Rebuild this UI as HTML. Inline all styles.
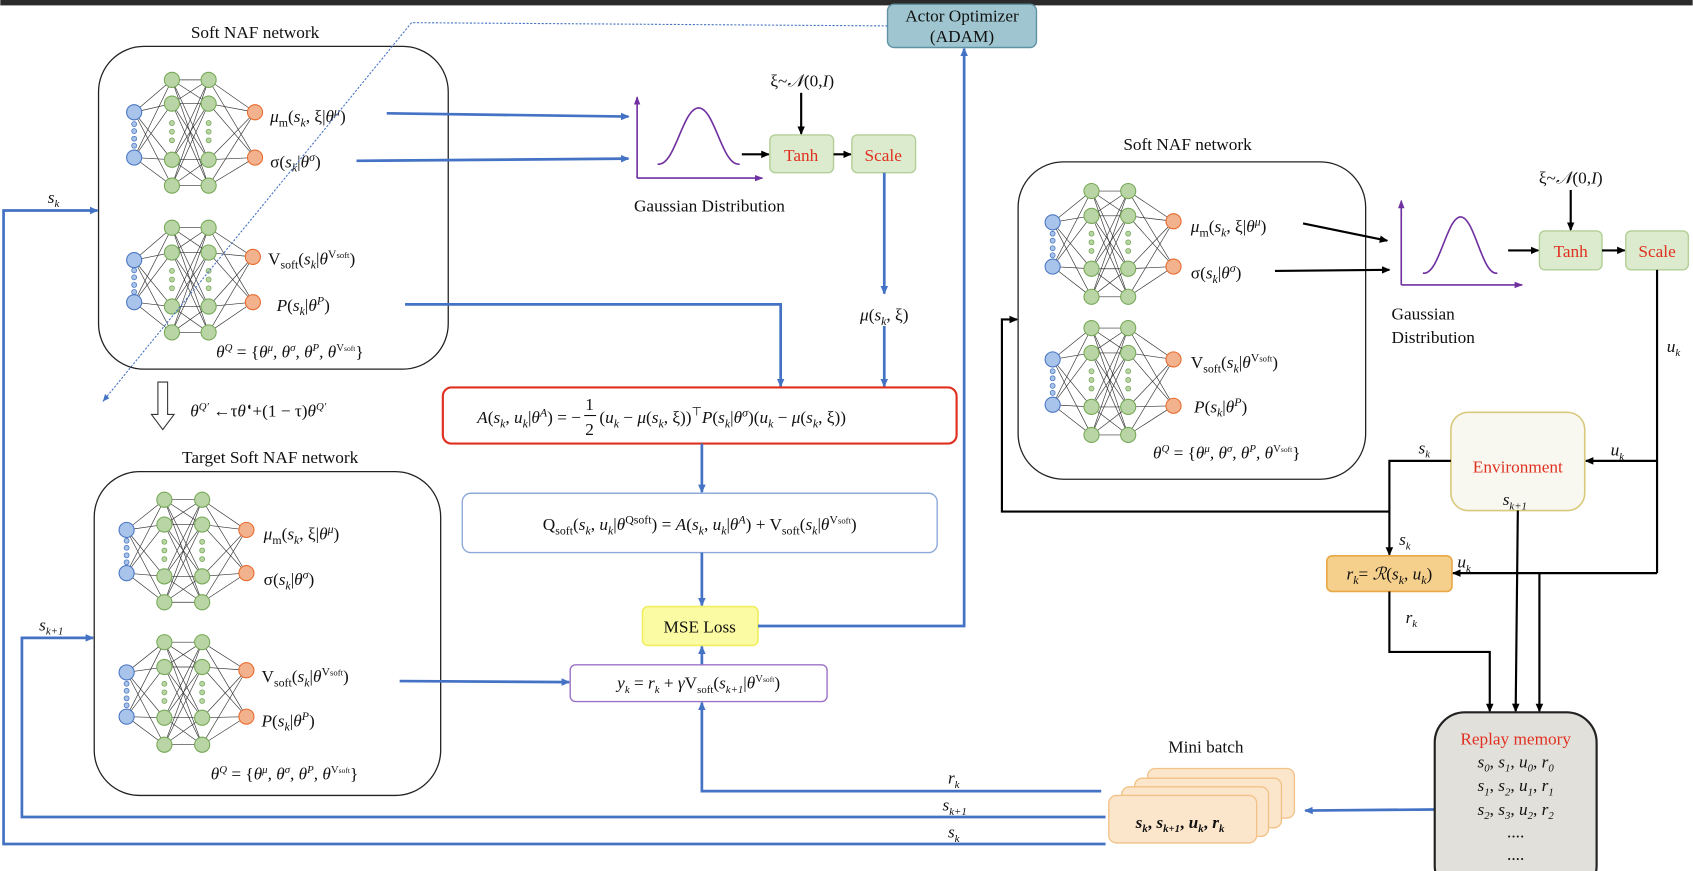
<!DOCTYPE html>
<html><head><meta charset="utf-8"><style>
html,body{margin:0;padding:0;background:#fff}
svg{display:block}
text{font-family:"Liberation Serif",serif;fill:#111}
.m{font-style:italic;font-size:16px}
.t{font-size:16px}
</style></head><body>
<svg id="s" width="1693" height="871" viewBox="0 0 1568 807" xmlns="http://www.w3.org/2000/svg">
<defs>
<marker id="ab" markerWidth="8" markerHeight="8" refX="7" refY="4" orient="auto" markerUnits="userSpaceOnUse"><path d="M0,0.5 L8,4 L0,7.5 Z" fill="#4472c4"/></marker>
<marker id="ak" markerWidth="8" markerHeight="8" refX="7" refY="4" orient="auto" markerUnits="userSpaceOnUse"><path d="M0,0.5 L8,4 L0,7.5 Z" fill="#000"/></marker>
<marker id="ap" markerWidth="8" markerHeight="8" refX="7" refY="4" orient="auto" markerUnits="userSpaceOnUse"><path d="M0,1 L8,4 L0,7 Z" fill="#7030a0"/></marker>
</defs>
<rect x="0" y="0" width="1568" height="5" fill="#2b2b2b"/>

<rect x="91" y="43" width="324" height="299" rx="42" fill="none" stroke="#222" stroke-width="1.2"/>
<text x="236" y="35" text-anchor="middle" class="t">Soft NAF network</text>
<rect x="87" y="437" width="321" height="300" rx="42" fill="none" stroke="#222" stroke-width="1.2"/>
<text x="250" y="429" text-anchor="middle" class="t">Target Soft NAF network</text>
<rect x="943" y="150" width="322" height="294" rx="42" fill="none" stroke="#222" stroke-width="1.2"/>
<text x="1100" y="139" text-anchor="middle" class="t">Soft NAF network</text>

<g id="nets"></g>

<text x="250" y="113" class="m">μ<tspan font-style="normal" font-size="11" dy="4">m</tspan><tspan dy="-4" font-style="normal">(</tspan>s<tspan font-size="11" dy="4">k</tspan><tspan dy="-4" font-style="normal">, ξ|</tspan>θ<tspan font-size="11" dy="-6">μ</tspan><tspan dy="6" font-style="normal">)</tspan></text>
<text x="250" y="155" class="m"><tspan font-style="normal">σ(</tspan>s<tspan font-size="11" dy="4">k</tspan><tspan dy="-4" font-style="normal">|</tspan>θ<tspan font-size="11" dy="-6">σ</tspan><tspan dy="6" font-style="normal">)</tspan></text>
<text x="248" y="245" class="m"><tspan font-style="normal">V</tspan><tspan font-style="normal" font-size="11" dy="4">soft</tspan><tspan dy="-4" font-style="normal">(</tspan>s<tspan font-size="11" dy="4">k</tspan><tspan dy="-4" font-style="normal">|</tspan>θ<tspan font-style="normal" font-size="11" dy="-6">V</tspan><tspan font-style="normal" font-size="8">soft</tspan><tspan dy="6" font-style="normal">)</tspan></text>
<text x="256" y="288" class="m">P<tspan font-style="normal">(</tspan>s<tspan font-size="11" dy="4">k</tspan><tspan dy="-4" font-style="normal">|</tspan>θ<tspan font-size="11" dy="-6">P</tspan><tspan dy="6" font-style="normal">)</tspan></text>
<text x="200" y="331" class="m" font-size="15">θ<tspan font-size="10" dy="-6">Q</tspan><tspan dy="6" font-style="normal"> = {</tspan>θ<tspan font-size="10" dy="-6">μ</tspan><tspan dy="6">, θ</tspan><tspan font-size="10" dy="-6">σ</tspan><tspan dy="6">, θ</tspan><tspan font-size="10" dy="-6">P</tspan><tspan dy="6">, θ</tspan><tspan font-style="normal" font-size="10" dy="-6">V</tspan><tspan font-style="normal" font-size="7">soft</tspan><tspan dy="6" font-style="normal">}</tspan></text>

<text x="244" y="500" class="m">μ<tspan font-style="normal" font-size="11" dy="4">m</tspan><tspan dy="-4" font-style="normal">(</tspan>s<tspan font-size="11" dy="4">k</tspan><tspan dy="-4" font-style="normal">, ξ|</tspan>θ<tspan font-size="11" dy="-6">μ</tspan><tspan dy="6" font-style="normal">)</tspan></text>
<text x="244" y="542" class="m"><tspan font-style="normal">σ(</tspan>s<tspan font-size="11" dy="4">k</tspan><tspan dy="-4" font-style="normal">|</tspan>θ<tspan font-size="11" dy="-6">σ</tspan><tspan dy="6" font-style="normal">)</tspan></text>
<text x="242" y="632" class="m"><tspan font-style="normal">V</tspan><tspan font-style="normal" font-size="11" dy="4">soft</tspan><tspan dy="-4" font-style="normal">(</tspan>s<tspan font-size="11" dy="4">k</tspan><tspan dy="-4" font-style="normal">|</tspan>θ<tspan font-style="normal" font-size="11" dy="-6">V</tspan><tspan font-style="normal" font-size="8">soft</tspan><tspan dy="6" font-style="normal">)</tspan></text>
<text x="242" y="673" class="m">P<tspan font-style="normal">(</tspan>s<tspan font-size="11" dy="4">k</tspan><tspan dy="-4" font-style="normal">|</tspan>θ<tspan font-size="11" dy="-6">P</tspan><tspan dy="6" font-style="normal">)</tspan></text>
<text x="195" y="722" class="m" font-size="15">θ<tspan font-size="10" dy="-6">Q</tspan><tspan dy="6" font-style="normal"> = {</tspan>θ<tspan font-size="10" dy="-6">μ</tspan><tspan dy="6">, θ</tspan><tspan font-size="10" dy="-6">σ</tspan><tspan dy="6">, θ</tspan><tspan font-size="10" dy="-6">P</tspan><tspan dy="6">, θ</tspan><tspan font-style="normal" font-size="10" dy="-6">V</tspan><tspan font-style="normal" font-size="7">soft</tspan><tspan dy="6" font-style="normal">}</tspan></text>

<text x="1103" y="215" class="m">μ<tspan font-style="normal" font-size="11" dy="4">m</tspan><tspan dy="-4" font-style="normal">(</tspan>s<tspan font-size="11" dy="4">k</tspan><tspan dy="-4" font-style="normal">, ξ|</tspan>θ<tspan font-size="11" dy="-6">μ</tspan><tspan dy="6" font-style="normal">)</tspan></text>
<text x="1103" y="258" class="m"><tspan font-style="normal">σ(</tspan>s<tspan font-size="11" dy="4">k</tspan><tspan dy="-4" font-style="normal">|</tspan>θ<tspan font-size="11" dy="-6">σ</tspan><tspan dy="6" font-style="normal">)</tspan></text>
<text x="1103" y="341" class="m"><tspan font-style="normal">V</tspan><tspan font-style="normal" font-size="11" dy="4">soft</tspan><tspan dy="-4" font-style="normal">(</tspan>s<tspan font-size="11" dy="4">k</tspan><tspan dy="-4" font-style="normal">|</tspan>θ<tspan font-style="normal" font-size="11" dy="-6">V</tspan><tspan font-style="normal" font-size="8">soft</tspan><tspan dy="6" font-style="normal">)</tspan></text>
<text x="1106" y="382" class="m">P<tspan font-style="normal">(</tspan>s<tspan font-size="11" dy="4">k</tspan><tspan dy="-4" font-style="normal">|</tspan>θ<tspan font-size="11" dy="-6">P</tspan><tspan dy="6" font-style="normal">)</tspan></text>
<text x="1068" y="425" class="m" font-size="15">θ<tspan font-size="10" dy="-6">Q</tspan><tspan dy="6" font-style="normal"> = {</tspan>θ<tspan font-size="10" dy="-6">μ</tspan><tspan dy="6">, θ</tspan><tspan font-size="10" dy="-6">σ</tspan><tspan dy="6">, θ</tspan><tspan font-size="10" dy="-6">P</tspan><tspan dy="6">, θ</tspan><tspan font-style="normal" font-size="10" dy="-6">V</tspan><tspan font-style="normal" font-size="7">soft</tspan><tspan dy="6" font-style="normal">}</tspan></text>

<rect x="822" y="4" width="138" height="40" rx="6" fill="#9fc6d0" stroke="#5f93a3" stroke-width="1.3"/>
<text x="891" y="20" text-anchor="middle" class="t" font-size="15">Actor Optimizer</text>
<text x="891" y="39" text-anchor="middle" class="t" font-size="15">(ADAM)</text>
<polyline points="822,24 381,21 95,372" fill="none" stroke="#4472c4" stroke-width="1" stroke-dasharray="2,1.5"/>
<path d="M95,372 l2,-7 l4,4 z" fill="#4472c4"/>

<line x1="358" y1="105" x2="582" y2="108" stroke="#4472c4" stroke-width="2.5" marker-end="url(#ab)"/>
<line x1="330" y1="149" x2="582" y2="147" stroke="#4472c4" stroke-width="2.5" marker-end="url(#ab)"/>
<line x1="590" y1="165" x2="590" y2="90" stroke="#7030a0" stroke-width="1.5" marker-end="url(#ap)"/>
<line x1="590" y1="165" x2="706" y2="165" stroke="#7030a0" stroke-width="1.5" marker-end="url(#ap)"/>
<path d="M609,152 C625,155 632,100 647,100 C662,100 669,155 685,152" fill="none" stroke="#7030a0" stroke-width="1.5"/>
<text x="657" y="196" text-anchor="middle" class="t" font-size="15">Gaussian Distribution</text>
<line x1="687" y1="143" x2="712" y2="143" stroke="#000" stroke-width="2" marker-end="url(#ak)"/>
<rect x="713" y="125" width="59" height="35" rx="5" fill="#dcebcd" stroke="#b3cf97" stroke-width="1.3"/>
<text x="742" y="149" text-anchor="middle" style="fill:#e03020" class="t">Tanh</text>
<line x1="772" y1="143" x2="788" y2="143" stroke="#000" stroke-width="2" marker-end="url(#ak)"/>
<rect x="789" y="125" width="59" height="35" rx="5" fill="#dcebcd" stroke="#b3cf97" stroke-width="1.3"/>
<text x="818" y="149" text-anchor="middle" style="fill:#e03020" class="t">Scale</text>
<text x="743" y="80" text-anchor="middle" class="m" font-size="15"><tspan font-style="normal">ξ~</tspan>𝒩<tspan font-style="normal">(0,</tspan>I<tspan font-style="normal">)</tspan></text>
<line x1="742" y1="86" x2="742" y2="124" stroke="#000" stroke-width="2" marker-end="url(#ak)"/>
<line x1="819" y1="160" x2="819" y2="272" stroke="#4472c4" stroke-width="2.5" marker-end="url(#ab)"/>
<text x="819" y="297" text-anchor="middle" class="m">μ<tspan font-style="normal">(</tspan>s<tspan font-size="11" dy="4">k</tspan><tspan dy="-4" font-style="normal">, ξ)</tspan></text>
<line x1="819" y1="302" x2="819" y2="358" stroke="#4472c4" stroke-width="2.5" marker-end="url(#ab)"/>
<polyline points="375,282 723,282 723,358" fill="none" stroke="#4472c4" stroke-width="2.5" marker-end="url(#ab)"/>

<path d="M146,354 h9 v30 h6 l-10.5,14 l-10.5,-14 h6 z" fill="#fff" stroke="#333" stroke-width="1"/>
<text x="176" y="386" class="m" font-size="15">θ<tspan font-size="10" dy="-6">Q′</tspan><tspan dy="6" font-style="normal"> ←τ</tspan>θ<tspan font-style="normal" font-size="10" dy="-6">◖</tspan><tspan dy="6" font-style="normal">+(1 − τ)</tspan>θ<tspan font-size="10" dy="-6">Q′</tspan></text>

<rect x="410" y="359" width="476" height="52" rx="8" fill="#fff" stroke="#e03020" stroke-width="2"/>
<text x="538" y="392" text-anchor="end" class="m" font-size="16">A<tspan font-style="normal">(</tspan>s<tspan font-size="11" dy="4">k</tspan><tspan dy="-4" font-style="normal">, </tspan>u<tspan font-size="11" dy="4">k</tspan><tspan dy="-4" font-style="normal">|</tspan>θ<tspan font-size="11" dy="-6">A</tspan><tspan dy="6" font-style="normal">) = −</tspan></text>
<text x="546" y="380" class="t" font-size="14" text-anchor="middle">1</text>
<line x1="541" y1="385" x2="552" y2="385" stroke="#111" stroke-width="1"/>
<text x="546" y="403" class="t" font-size="14" text-anchor="middle">2</text>
<text x="555" y="392" class="m" font-size="16"><tspan font-style="normal">(</tspan>u<tspan font-size="11" dy="4">k</tspan><tspan dy="-4" font-style="normal"> − </tspan>μ<tspan font-style="normal">(</tspan>s<tspan font-size="11" dy="4">k</tspan><tspan dy="-4" font-style="normal">, ξ))</tspan><tspan font-style="normal" font-size="11" dy="-7">⊤</tspan><tspan dy="7">P</tspan><tspan font-style="normal">(</tspan>s<tspan font-size="11" dy="4">k</tspan><tspan dy="-4" font-style="normal">|</tspan>θ<tspan font-size="11" dy="-6">σ</tspan><tspan dy="6" font-style="normal">)(</tspan>u<tspan font-size="11" dy="4">k</tspan><tspan dy="-4" font-style="normal"> − </tspan>μ<tspan font-style="normal">(</tspan>s<tspan font-size="11" dy="4">k</tspan><tspan dy="-4" font-style="normal">, ξ))</tspan></text>
<line x1="650" y1="411" x2="650" y2="456" stroke="#4472c4" stroke-width="2.5" marker-end="url(#ab)"/>

<rect x="428" y="457" width="440" height="55" rx="8" fill="#fff" stroke="#8eaadb" stroke-width="1.3"/>
<text x="648" y="491" text-anchor="middle" class="m" font-size="16"><tspan font-style="normal">Q</tspan><tspan font-style="normal" font-size="11" dy="4">soft</tspan><tspan dy="-4" font-style="normal">(</tspan>s<tspan font-size="11" dy="4">k</tspan><tspan dy="-4" font-style="normal">, </tspan>u<tspan font-size="11" dy="4">k</tspan><tspan dy="-4" font-style="normal">|</tspan>θ<tspan font-style="normal" font-size="11" dy="-6">Qsoft</tspan><tspan dy="6" font-style="normal">) = </tspan>A<tspan font-style="normal">(</tspan>s<tspan font-size="11" dy="4">k</tspan><tspan dy="-4" font-style="normal">, </tspan>u<tspan font-size="11" dy="4">k</tspan><tspan dy="-4" font-style="normal">|</tspan>θ<tspan font-size="11" dy="-6">A</tspan><tspan dy="6" font-style="normal">) + V</tspan><tspan font-style="normal" font-size="11" dy="4">soft</tspan><tspan dy="-4" font-style="normal">(</tspan>s<tspan font-size="11" dy="4">k</tspan><tspan dy="-4" font-style="normal">|</tspan>θ<tspan font-style="normal" font-size="11" dy="-6">V</tspan><tspan font-style="normal" font-size="8">soft</tspan><tspan dy="6" font-style="normal">)</tspan></text>
<line x1="650" y1="512" x2="650" y2="561" stroke="#4472c4" stroke-width="2.5" marker-end="url(#ab)"/>

<rect x="595" y="562" width="107" height="36" rx="5" fill="#fbfba3" stroke="#efef60" stroke-width="1.5"/>
<text x="648" y="586" text-anchor="middle" class="t">MSE Loss</text>
<polyline points="702,580 893,580 893,45" fill="none" stroke="#4472c4" stroke-width="2.5" marker-end="url(#ab)"/>
<line x1="650" y1="616" x2="650" y2="599" stroke="#4472c4" stroke-width="2.5" marker-end="url(#ab)"/>

<rect x="528" y="616" width="238" height="34" rx="5" fill="#fff" stroke="#9b73c7" stroke-width="1.3"/>
<text x="647" y="638" text-anchor="middle" class="m" font-size="15">y<tspan font-size="10" dy="4">k</tspan><tspan dy="-4" font-style="normal"> = </tspan>r<tspan font-size="10" dy="4">k</tspan><tspan dy="-4" font-style="normal"> + </tspan>γ<tspan font-style="normal">V</tspan><tspan font-style="normal" font-size="10" dy="4">soft</tspan><tspan dy="-4" font-style="normal">(</tspan>s<tspan font-size="10" dy="4">k+1</tspan><tspan dy="-4" font-style="normal">|</tspan>θ<tspan font-style="normal" font-size="10" dy="-6">V</tspan><tspan font-style="normal" font-size="7">soft</tspan><tspan dy="6" font-style="normal">)</tspan></text>
<line x1="370" y1="631" x2="527" y2="632" stroke="#4472c4" stroke-width="2.5" marker-end="url(#ab)"/>

<polyline points="1020,733 650,733 650,651" fill="none" stroke="#4472c4" stroke-width="2.5" marker-end="url(#ab)"/>
<polyline points="1024,757 20,757 20,591 86,591" fill="none" stroke="#4472c4" stroke-width="2.5" marker-end="url(#ab)"/>
<polyline points="1024,782 3,782 3,195 90,195" fill="none" stroke="#4472c4" stroke-width="2.5" marker-end="url(#ab)"/>
<text x="878" y="726" class="m" font-size="15">r<tspan font-size="10" dy="4">k</tspan></text>
<text x="873" y="751" class="m" font-size="15">s<tspan font-size="10" dy="4">k+1</tspan></text>
<text x="878" y="776" class="m" font-size="15">s<tspan font-size="10" dy="4">k</tspan></text>
<text x="36" y="584" class="m" font-size="15">s<tspan font-size="10" dy="4">k+1</tspan></text>
<text x="44" y="188" class="m" font-size="15">s<tspan font-size="10" dy="4">k</tspan></text>

<text x="1117" y="697" text-anchor="middle" class="t">Mini batch</text>
<rect x="1063" y="712" width="136" height="46" rx="7" fill="#fbe5cb" stroke="#f2c186" stroke-width="1.2"/>
<rect x="1051" y="721" width="136" height="46" rx="7" fill="#fbe5cb" stroke="#f2c186" stroke-width="1.2"/>
<rect x="1039" y="729" width="136" height="46" rx="7" fill="#fbe5cb" stroke="#f2c186" stroke-width="1.2"/>
<rect x="1027" y="737" width="137" height="44" rx="7" fill="#fbe5cb" stroke="#f2c186" stroke-width="1.2"/>
<text x="1093" y="767" text-anchor="middle" class="m" font-size="15" font-weight="bold">s<tspan font-size="10" dy="4">k</tspan><tspan dy="-4" font-style="normal">, </tspan>s<tspan font-size="10" dy="4">k+1</tspan><tspan dy="-4" font-style="normal">, </tspan>u<tspan font-size="10" dy="4">k</tspan><tspan dy="-4" font-style="normal">, </tspan>r<tspan font-size="10" dy="4">k</tspan></text>
<line x1="1329" y1="750" x2="1209" y2="751" stroke="#4472c4" stroke-width="2.5" marker-end="url(#ab)"/>

<line x1="1207" y1="207" x2="1285" y2="223" stroke="#000" stroke-width="2" marker-end="url(#ak)"/>
<line x1="1181" y1="251" x2="1287" y2="250" stroke="#000" stroke-width="2" marker-end="url(#ak)"/>
<line x1="1298" y1="264" x2="1298" y2="186" stroke="#7030a0" stroke-width="1.5" marker-end="url(#ap)"/>
<line x1="1298" y1="264" x2="1410" y2="264" stroke="#7030a0" stroke-width="1.5" marker-end="url(#ap)"/>
<path d="M1318,253 C1333,256 1340,201 1353,201 C1366,201 1373,256 1387,253" fill="none" stroke="#7030a0" stroke-width="1.5"/>
<text x="1289" y="296" class="t" font-size="15">Gaussian</text>
<text x="1289" y="318" class="t" font-size="15">Distribution</text>
<line x1="1397" y1="232" x2="1425" y2="232" stroke="#000" stroke-width="2" marker-end="url(#ak)"/>
<rect x="1426" y="214" width="58" height="36" rx="5" fill="#dcebcd" stroke="#b3cf97" stroke-width="1.3"/>
<text x="1455" y="238" text-anchor="middle" style="fill:#e03020" class="t">Tanh</text>
<line x1="1484" y1="232" x2="1505" y2="232" stroke="#000" stroke-width="2" marker-end="url(#ak)"/>
<rect x="1506" y="214" width="58" height="36" rx="5" fill="#dcebcd" stroke="#b3cf97" stroke-width="1.3"/>
<text x="1535" y="238" text-anchor="middle" style="fill:#e03020" class="t">Scale</text>
<text x="1455" y="170" text-anchor="middle" class="m" font-size="15"><tspan font-style="normal">ξ~</tspan>𝒩<tspan font-style="normal">(0,</tspan>I<tspan font-style="normal">)</tspan></text>
<line x1="1455" y1="176" x2="1455" y2="213" stroke="#000" stroke-width="2" marker-end="url(#ak)"/>

<polyline points="1535,250 1535,531" fill="none" stroke="#000" stroke-width="2"/>
<text x="1544" y="326" class="m" font-size="15">u<tspan font-size="10" dy="4">k</tspan></text>
<line x1="1535" y1="427" x2="1469" y2="427" stroke="#000" stroke-width="2" marker-end="url(#ak)"/>
<text x="1492" y="422" class="m" font-size="15">u<tspan font-size="10" dy="4">k</tspan></text>
<rect x="1344" y="382" width="124" height="91" rx="16" fill="#f9f8f0" stroke="#d8c97c" stroke-width="1.5"/>
<text x="1406" y="438" text-anchor="middle" style="fill:#e03020" class="t" font-size="17">Environment</text>
<text x="1392" y="468" class="m" font-size="15">s<tspan font-size="10" dy="4">k+1</tspan></text>
<polyline points="1344,427 1287,427 1287,514" fill="none" stroke="#000" stroke-width="2" marker-end="url(#ak)"/>
<text x="1314" y="420" class="m" font-size="15">s<tspan font-size="10" dy="4">k</tspan></text>
<polyline points="1287,474 928,474 928,296 942,296" fill="none" stroke="#000" stroke-width="2" marker-end="url(#ak)"/>
<text x="1296" y="505" class="m" font-size="15">s<tspan font-size="10" dy="4">k</tspan></text>
<rect x="1229" y="515" width="116" height="33" rx="5" fill="#f5cf8c" stroke="#e8a848" stroke-width="1.5"/>
<text x="1287" y="537" text-anchor="middle" class="m" font-size="16">r<tspan font-size="11" dy="4">k</tspan><tspan dy="-4" font-style="normal">= </tspan>ℛ<tspan font-style="normal">(</tspan>s<tspan font-size="11" dy="4">k</tspan><tspan dy="-4" font-style="normal">, </tspan>u<tspan font-size="11" dy="4">k</tspan><tspan dy="-4" font-style="normal">)</tspan></text>
<line x1="1535" y1="531" x2="1346" y2="531" stroke="#000" stroke-width="2" marker-end="url(#ak)"/>
<text x="1350" y="526" class="m" font-size="15">u<tspan font-size="10" dy="4">k</tspan></text>
<polyline points="1287,548 1287,604 1380,604 1380,659" fill="none" stroke="#000" stroke-width="2" marker-end="url(#ak)"/>
<text x="1302" y="577" class="m" font-size="15">r<tspan font-size="10" dy="4">k</tspan></text>
<line x1="1406" y1="473" x2="1404" y2="659" stroke="#000" stroke-width="2" marker-end="url(#ak)"/>
<line x1="1426" y1="531" x2="1426" y2="659" stroke="#000" stroke-width="2" marker-end="url(#ak)"/>

<rect x="1329" y="660" width="150" height="170" rx="28" fill="#e1e0db" stroke="#222" stroke-width="2"/>
<text x="1404" y="690" text-anchor="middle" style="fill:#e03020" class="t">Replay memory</text>
<text x="1404" y="711" text-anchor="middle" class="m" font-size="15">s<tspan font-size="10" dy="4">0</tspan><tspan dy="-4" font-style="normal">, </tspan>s<tspan font-size="10" dy="4">1</tspan><tspan dy="-4" font-style="normal">, </tspan>u<tspan font-size="10" dy="4">0</tspan><tspan dy="-4" font-style="normal">, </tspan>r<tspan font-size="10" dy="4">0</tspan></text>
<text x="1404" y="733" text-anchor="middle" class="m" font-size="15">s<tspan font-size="10" dy="4">1</tspan><tspan dy="-4" font-style="normal">, </tspan>s<tspan font-size="10" dy="4">2</tspan><tspan dy="-4" font-style="normal">, </tspan>u<tspan font-size="10" dy="4">1</tspan><tspan dy="-4" font-style="normal">, </tspan>r<tspan font-size="10" dy="4">1</tspan></text>
<text x="1404" y="755" text-anchor="middle" class="m" font-size="15">s<tspan font-size="10" dy="4">2</tspan><tspan dy="-4" font-style="normal">, </tspan>s<tspan font-size="10" dy="4">3</tspan><tspan dy="-4" font-style="normal">, </tspan>u<tspan font-size="10" dy="4">2</tspan><tspan dy="-4" font-style="normal">, </tspan>r<tspan font-size="10" dy="4">2</tspan></text>
<text x="1404" y="776" text-anchor="middle" class="t" font-size="14">....</text>
<text x="1404" y="797" text-anchor="middle" class="t" font-size="14">....</text>
</svg>
<script>
(function(){
var ns="http://www.w3.org/2000/svg",g=document.getElementById("nets");
function el(n,a){var e=document.createElementNS(ns,n);for(var k in a)e.setAttribute(k,a[k]);g.appendChild(e);return e;}
function net(bx,gx1,gx2,ox,blue,green,orange){
 var r=7;
 blue.forEach(function(b){green.forEach(function(y){el("line",{x1:bx,y1:b,x2:gx1,y2:y,stroke:"#333","stroke-width":0.6});});});
 green.forEach(function(a){green.forEach(function(y){el("line",{x1:gx1,y1:a,x2:gx2,y2:y,stroke:"#333","stroke-width":0.6});});});
 green.forEach(function(a){orange.forEach(function(y){el("line",{x1:gx2,y1:a,x2:ox,y2:y,stroke:"#333","stroke-width":0.6});});});
 blue.forEach(function(y){el("circle",{cx:bx,cy:y,r:r,fill:"#a9c4eb",stroke:"#4a76c2","stroke-width":1});});
 [gx1,gx2].forEach(function(x){green.forEach(function(y){el("circle",{cx:x,cy:y,r:r,fill:"#b9d5a6",stroke:"#76a956","stroke-width":1});});
  var m=(green[1]+green[2])/2;[-8,0,8].forEach(function(d){el("circle",{cx:x,cy:m+d,r:2.3,fill:"#b9d5a6",stroke:"#76a956","stroke-width":0.7});});});
 var mb=(blue[0]+blue[1])/2;[-10,-3.5,3.5,10].forEach(function(d){el("circle",{cx:bx,cy:mb+d,r:2.3,fill:"#a9c4eb",stroke:"#4a76c2","stroke-width":0.7});});
 orange.forEach(function(y){el("circle",{cx:ox,cy:y,r:r,fill:"#f3b28e",stroke:"#e86b2c","stroke-width":1});});
}
net(124,159,193,236,[104,146],[74,96,148,172],[104,146]);
net(124,159,193,234,[241,280],[211,234,284,308],[238,280]);
net(117,152,187,228,[491,531],[463,486,534,558],[491,531]);
net(117,152,187,228,[623,664],[595,618,665,690],[621,664]);
net(975,1011,1045,1087,[206,247],[177,200,249,275],[205,247]);
net(975,1011,1045,1087,[333,375],[304,327,377,403],[333,376]);
})();
</script>
</body></html>
